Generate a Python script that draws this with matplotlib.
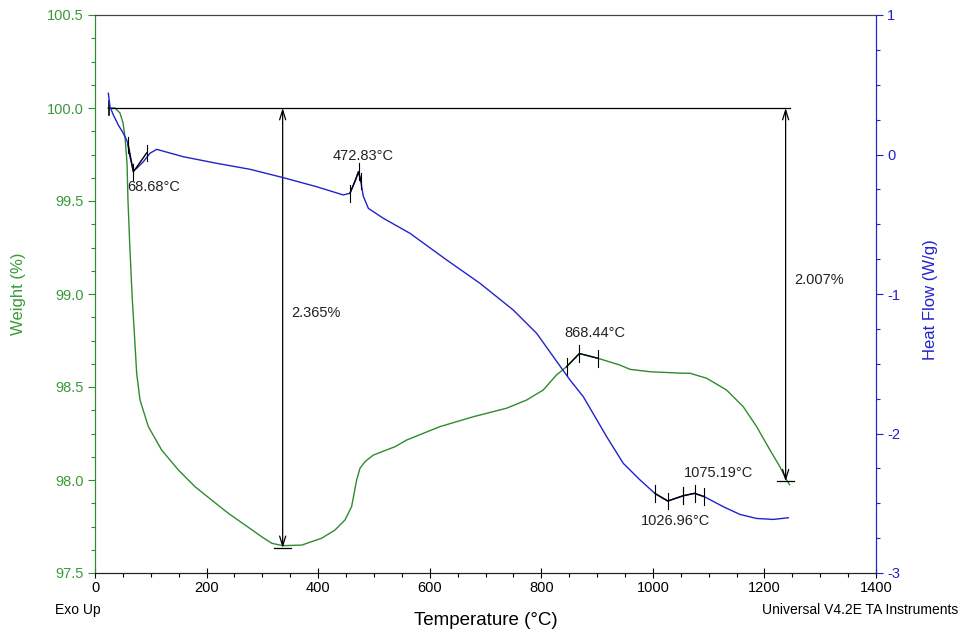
import matplotlib
matplotlib.use("Agg")
import matplotlib.pyplot as plt
from matplotlib.ticker import MultipleLocator
import numpy as np

# ---------------- data ----------------
tga_T = [23.3, 35.8, 44.8, 50.2, 53.8, 57.4, 59.1, 62.5, 66.9, 70.5, 74.7, 80.7, 95.6, 119.5,
         149.4, 179.3, 209.1, 239.0, 269.0, 298.8, 316.7, 336.4, 370.5, 406.3, 430.2, 448.1,
         460.0, 469.0, 475.0, 484.0, 498.9, 537.7, 558.7, 618.4, 678.0, 737.8, 773.7, 803.5,
         827.4, 845.3, 868.0, 902.0, 941.0, 959.0, 995.0, 1054.6, 1066.5, 1096.4, 1132.0,
         1162.0, 1186.0, 1210.0, 1228.0, 1238.0, 1245.0]
tga_W = [100.0, 100.0, 99.973, 99.92, 99.844, 99.704, 99.505, 99.25, 98.968, 98.79, 98.574,
         98.43, 98.287, 98.161, 98.054, 97.964, 97.892, 97.821, 97.758, 97.695, 97.66, 97.647,
         97.65, 97.687, 97.731, 97.785, 97.857, 98.0, 98.063, 98.099, 98.134, 98.179, 98.215,
         98.287, 98.34, 98.386, 98.43, 98.484, 98.565, 98.609, 98.68, 98.654, 98.618, 98.595,
         98.582, 98.574, 98.574, 98.547, 98.484, 98.394, 98.287, 98.161, 98.07, 98.009, 97.975]

dsc_T = [23.9, 26.9, 32.9, 41.8, 50.8, 58.0, 62.7, 68.7, 74.7, 86.6, 98.6, 110.6, 158.3, 218.0,
         277.8, 337.5, 397.3, 445.0, 457.0, 466.0, 472.0, 476.0, 481.0, 490.0, 516.8, 564.6,
         630.4, 690.0, 749.8, 791.7, 821.5, 851.4, 875.3, 917.2, 947.0, 977.0, 1003.8, 1026.5,
         1054.6, 1074.4, 1092.3, 1126.4, 1156.0, 1186.0, 1215.8, 1242.7]
dsc_H = [0.439, 0.343, 0.283, 0.211, 0.152, 0.092, -0.016, -0.116, -0.099, -0.052, 0.009,
         0.037, -0.016, -0.063, -0.106, -0.166, -0.231, -0.29, -0.278, -0.195, -0.123, -0.183,
         -0.30, -0.386, -0.457, -0.565, -0.756, -0.923, -1.115, -1.282, -1.449, -1.616, -1.736,
         -2.023, -2.214, -2.333, -2.43, -2.484, -2.446, -2.429, -2.453, -2.525, -2.58, -2.609,
         -2.616, -2.604]

# DSC peak analyses: (label, start tick, peak, end tick)
dsc_peaks = [
    ("68.68°C", (59.7, 0.068), (68.68, -0.125), (92.6, 0.011)),
    ("472.83°C", (457.0, -0.278), (472.83, -0.123), (476.5, -0.19)),
    ("1026.96°C", (1003.8, -2.43), (1026.96, -2.484), (1054.6, -2.446)),
    ("1075.19°C", (1054.6, -2.446), (1075.19, -2.429), (1092.3, -2.453)),
]
tga_peak = ("868.44°C", (845.3, 98.609), (868.44, 98.68), (902.0, 98.654))

# weight-loss steps
ref_weight = 100.0
ref_T = [25.0, 1245.0]
step_T = [336.4, 1238.0]
step_loss = [2.365, 2.007]

GREEN = "#2e8b2e"
GREEN_TXT = "#3a9a3a"
BLUE = "#2222cc"
FONT = ["Liberation Sans", "DejaVu Sans"]
plt.rcParams["font.family"] = FONT
plt.rcParams["axes.unicode_minus"] = False

fig = plt.figure(figsize=(9.62, 6.34), dpi=100)
ax = fig.add_axes([95/962, 1-573/634, (876-95)/962, (573-15)/634])
ax2 = ax.twinx()

ax.plot(tga_T, tga_W, color=GREEN, lw=1.0, zorder=3)
ax2.plot(dsc_T, dsc_H, color=BLUE, lw=1.0, zorder=3)

ax.set_xlim(0, 1400)
ax.set_ylim(97.5, 100.5)
ax2.set_ylim(-3, 1)

ax.xaxis.set_major_locator(MultipleLocator(200))
ax.xaxis.set_minor_locator(MultipleLocator(50))
ax.yaxis.set_major_locator(MultipleLocator(0.5))
ax.yaxis.set_minor_locator(MultipleLocator(0.125))
ax2.yaxis.set_major_locator(MultipleLocator(1))
ax2.yaxis.set_minor_locator(MultipleLocator(0.25))
ax.yaxis.set_major_formatter(matplotlib.ticker.FormatStrFormatter("%.1f"))

ax.tick_params(axis="x", which="major", direction="inout", length=7, width=0.8, labelsize=10.5, pad=2)
ax.tick_params(axis="x", which="minor", direction="out", length=3, width=0.8)
ax.tick_params(axis="y", which="major", direction="out", length=5, width=0.8, colors=GREEN,
               labelcolor=GREEN_TXT, labelsize=10.5, pad=3)
ax.tick_params(axis="y", which="minor", direction="out", length=3, width=0.8, colors=GREEN)
ax2.tick_params(axis="y", which="major", direction="out", length=5, width=0.8, colors=BLUE,
                labelcolor=BLUE, labelsize=10.5, pad=3)
ax2.tick_params(axis="y", which="minor", direction="out", length=3, width=0.8, colors=BLUE)

for a in (ax, ax2):
    a.spines["left"].set_color(GREEN)
    a.spines["right"].set_color(BLUE)
    a.spines["top"].set_color("#444444")
    a.spines["bottom"].set_color("#222222")
    for s in a.spines.values():
        s.set_linewidth(0.8)

ax.set_ylabel("Weight (%)", color=GREEN_TXT, fontsize=12)
ax.yaxis.set_label_coords(-69/781, 0.5)
ax2.set_ylabel("Heat Flow (W/g)", color=BLUE, fontsize=12)
ax2.yaxis.set_label_coords(1 + 47/781, 0.49)
ax.set_xlabel("Temperature (°C)", fontsize=13.5)
ax.xaxis.set_label_coords(0.5, -39/558)

fig.text(55/962, 1-610/634, "Exo Up", fontsize=10, va="center", ha="left")
fig.text(958/962, 1-610/634, "Universal V4.2E TA Instruments", fontsize=10, va="center", ha="right")

# weight step reference line and arrows
ax.plot(ref_T, [ref_weight, ref_weight], color="black", lw=0.9, zorder=4)
ax.plot([ref_T[0], ref_T[0]], [ref_weight - 0.04, ref_weight + 0.04], color="black", lw=1.2, zorder=4)
for T, loss in zip(step_T, step_loss):
    y_end = ref_weight - loss
    ax.annotate("", xy=(T, y_end), xytext=(T, ref_weight),
                arrowprops=dict(arrowstyle="<->,head_length=0.7,head_width=0.22",
                                color="black", lw=0.9, shrinkA=0, shrinkB=0), zorder=5)
    ax.plot([T - 15, T + 15], [y_end, y_end], color="black", lw=0.9, zorder=5)
    ax.annotate(f"{loss:.3f}%", xy=(T, (ref_weight + y_end) / 2), xytext=(9, 15),
                textcoords="offset pixels", fontsize=10.5, ha="left", va="center",
                color="#222222")

# peak analyses on DSC
offsets = {"68.68°C": (-6, -15, "left"), "472.83°C": (4, 16, "center"),
           "1026.96°C": (8, -20, "center"), "1075.19°C": (24, 20, "center")}
for label, s, p, e in dsc_peaks:
    ax2.plot([s[0], p[0], e[0]], [s[1], p[1], e[1]], color="black", lw=1.0, zorder=6)
    for pt in (s, p, e):
        ax2.plot([pt[0], pt[0]], [pt[1] - 0.06, pt[1] + 0.06], color="black", lw=0.8, zorder=6)
    dx, dy, ha = offsets[label]
    ax2.annotate(label, xy=p, xytext=(dx, dy), textcoords="offset pixels", ha=ha,
                 va="center", fontsize=10.5, color="#222222")

label, s, p, e = tga_peak
ax.plot([s[0], p[0], e[0]], [s[1], p[1], e[1]], color="black", lw=1.0, zorder=6)
for pt in (s, p, e):
    ax.plot([pt[0], pt[0]], [pt[1] - 0.045, pt[1] + 0.045], color="black", lw=0.8, zorder=6)
ax.annotate(label, xy=p, xytext=(15, 21), textcoords="offset pixels", ha="center",
            va="center", fontsize=10.5, color="#222222")

fig.savefig("out.png", dpi=100)
